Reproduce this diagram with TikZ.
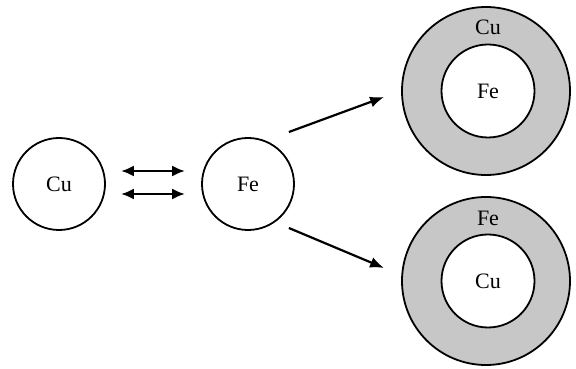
\documentclass[tikz,border=0pt]{standalone}
\usepackage{fontspec}
\setmainfont{Liberation Serif}
\usetikzlibrary{arrows.meta}
\begin{document}
\begin{tikzpicture}[x=1pt, y=1pt, font=\fontsize{22}{24}\selectfont,
  atom/.style={shape=circle, draw=black, line width=1.8pt, minimum size=92pt, inner sep=0pt},
  shell/.style={shape=circle, draw=black, line width=1.8pt, fill=black!22, minimum size=168pt, inner sep=0pt},
  core/.style={shape=circle, draw=black, line width=1.8pt, fill=white, minimum size=93pt, inner sep=0pt},
  arr/.style={-{Latex[length=14pt,width=11pt]}, line width=2.2pt, draw=black},
  darr/.style={{Latex[length=13pt,width=11pt]}-{Latex[length=13pt,width=11pt]}, line width=2.4pt, draw=black}]
\useasboundingbox (0,0) rectangle (576,369);
\node[atom] (cu) at (59,185) {Cu};
\node[atom] (fe) at (248,185) {Fe};
\node[shell] (top) at (486,278) {};
\node[core] (topcore) at (488,278) {Fe};
\node (toplabel) at (488,342) {Cu};
\node[shell] (bot) at (486,88) {};
\node[core] (botcore) at (488,88) {Cu};
\node (botlabel) at (488,151) {Fe};
\draw [darr] ([xshift=15pt,yshift=13pt]cu.east) -- ([xshift=-16pt,yshift=13pt]fe.west);
\draw [darr] ([xshift=15pt,yshift=-10pt]cu.east) -- ([xshift=-16pt,yshift=-10pt]fe.west);
\draw [arr] ([xshift=-6pt,yshift=52pt]fe.east) -- ([xshift=-17pt,yshift=-6pt]top.west);
\draw [arr] ([xshift=-6pt,yshift=-44pt]fe.east) -- ([xshift=-17pt,yshift=13pt]bot.west);
\end{tikzpicture}
\end{document}
